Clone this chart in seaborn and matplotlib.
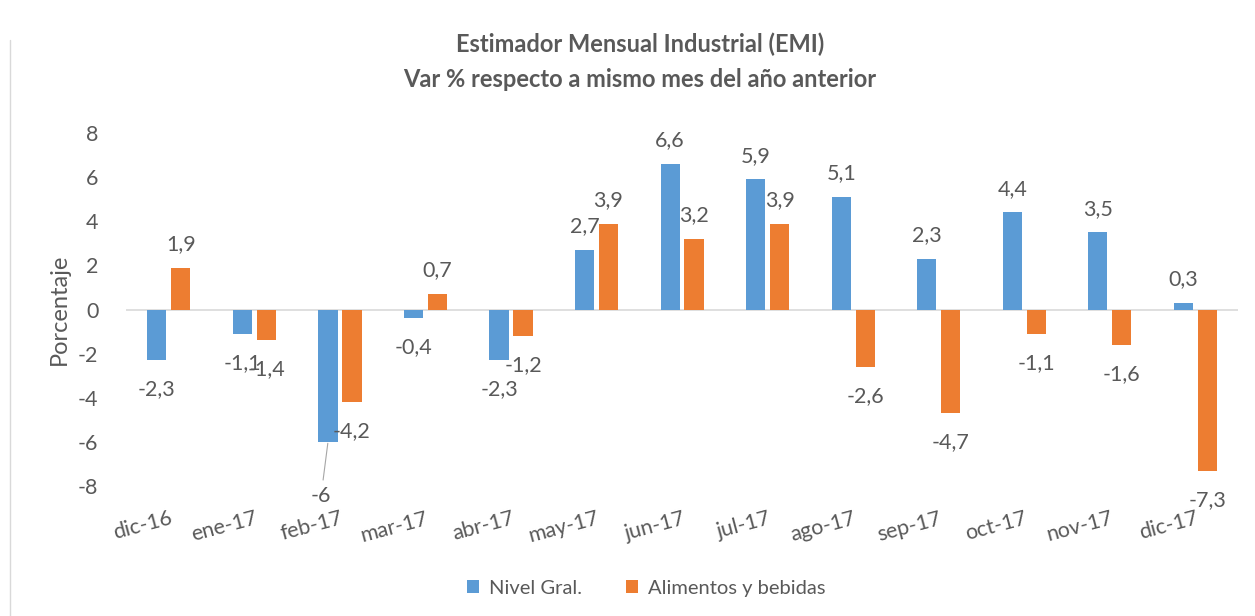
import pandas as pd
import seaborn as sns
import matplotlib.pyplot as plt
from matplotlib.lines import Line2D

# datos
meses = ['dic-16', 'ene-17', 'feb-17', 'mar-17', 'abr-17', 'may-17', 'jun-17',
         'jul-17', 'ago-17', 'sep-17', 'oct-17', 'nov-17', 'dic-17']
nivel_gral = [-2.3, -1.1, -6, -0.4, -2.3, 2.7, 6.6, 5.9, 5.1, 2.3, 4.4, 3.5, 0.3]
alimentos = [1.9, -1.4, -4.2, 0.7, -1.2, 3.9, 3.2, 3.9, -2.6, -4.7, -1.1, -1.6, -7.3]
series = ['Nivel Gral.', 'Alimentos y bebidas']
y_ticks = [-8, -6, -4, -2, 0, 2, 4, 6, 8]

colores = ['#5B9BD5', '#ED7D31']
gris = '#595959'

df = pd.DataFrame({
    'mes': meses * 2,
    'serie': [series[0]] * len(meses) + [series[1]] * len(meses),
    'valor': nivel_gral + alimentos,
})

sns.set_style('white')
plt.rcParams['font.family'] = ['Lato', 'DejaVu Sans']  # despues de set_style

fig = plt.figure(figsize=(12.55, 6.16), dpi=100)
ax = fig.add_axes([0.1005, 0.211, 0.886, 0.573])

sns.barplot(data=df, x='mes', y='valor', hue='serie', palette=colores,
            width=0.56, gap=0.2, saturation=1, errorbar=None, linewidth=0, ax=ax)

ax.set_ylim(-8, 8)
ax.set_yticks(y_ticks)
ax.set_yticklabels([str(t) for t in y_ticks])
ax.axhline(0, color='#D9D9D9', lw=1.2, zorder=0)
for s in ax.spines.values():
    s.set_visible(False)
ax.tick_params(axis='y', length=0, pad=20, labelsize=15.5, labelcolor=gris)
ax.tick_params(axis='x', length=0, pad=16, labelsize=15.5, labelcolor=gris)
plt.setp(ax.get_xticklabels(), rotation=15, ha='right', va='top',
         rotation_mode='anchor')
ax.set_xlabel('')
ax.set_ylabel('Porcentaje', fontsize=17, color=gris, labelpad=6)

"""etiquetas de datos"""
for cont, vals in zip(ax.containers, [nivel_gral, alimentos]):
    for bar, v in zip(cont, vals):
        x = bar.get_x() + bar.get_width() / 2
        texto = f'{v:g}'.replace('.', ',')
        if texto == '-6':
            # etiqueta desplazada con linea guia
            ax.annotate(texto, (x, v), xytext=(-5, -39), textcoords='offset points',
                        ha='center', va='center', fontsize=15.5, color=gris,
                        arrowprops=dict(arrowstyle='-', color='#A6A6A6', lw=0.8,
                                        shrinkA=2, shrinkB=1))
            continue
        dy = 17 if v > 0 else -21
        ax.annotate(texto, (x, v), xytext=(0, dy), textcoords='offset points',
                    ha='center', va='center', fontsize=15.5, color=gris)

sns.move_legend(ax, 'center', bbox_to_anchor=(0.515, 0.045),
                bbox_transform=fig.transFigure, ncol=2, frameon=False,
                title=None, fontsize=14.5, handlelength=0.6, handleheight=0.6,
                columnspacing=2.2, handletextpad=0.5)
for t in ax.get_legend().get_texts():
    t.set_color(gris)

fig.suptitle('Estimador Mensual Industrial (EMI)\nVar % respecto a mismo mes del año anterior',
             x=0.51, y=0.948, fontsize=17, fontweight='bold', color=gris, linespacing=1.65)

# borde izquierdo del area del grafico
fig.add_artist(Line2D([0.008, 0.008], [0, 0.935], color='#D9D9D9', lw=1))

plt.savefig('out.png', dpi=100)
